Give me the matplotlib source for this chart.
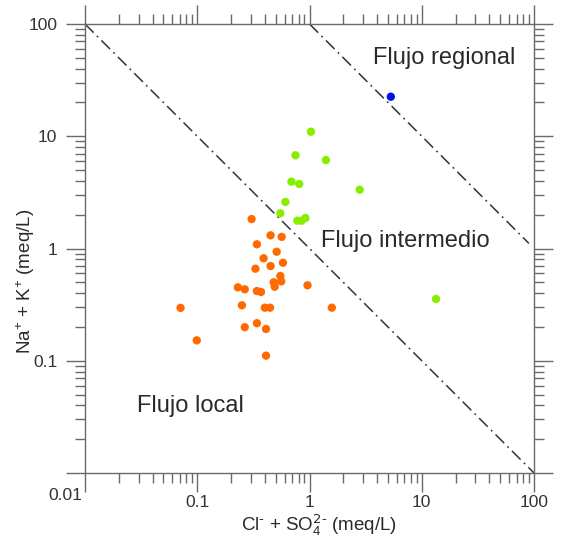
import numpy as np
import matplotlib
matplotlib.use("Agg")
import matplotlib.pyplot as plt
from matplotlib.ticker import LogLocator, NullFormatter, FixedFormatter, FixedLocator
import matplotlib.transforms as mtransforms

plt.rcParams['font.family'] = ['Liberation Sans', 'DejaVu Sans']
plt.rcParams['mathtext.default'] = 'regular'

# Cl + SO4 vs Na + K (meq/L) for each water sample
local_x = [0.305, 0.45, 0.565, 0.34, 0.51, 0.39, 0.58, 0.45, 0.33, 0.55,
           0.48, 0.56, 0.49, 0.23, 0.265, 0.96, 0.34, 0.37, 0.25, 0.40,
           0.445, 0.071, 1.58, 0.265, 0.34, 0.41, 0.099, 0.41]
local_y = [1.83, 1.31, 1.27, 1.09, 0.936, 0.818, 0.747, 0.698, 0.661, 0.569,
           0.50, 0.51, 0.457, 0.451, 0.433, 0.47, 0.418, 0.41, 0.312, 0.297,
           0.297, 0.296, 0.297, 0.199, 0.216, 0.192, 0.152, 0.111]

inter_x = [1.03, 0.75, 1.40, 0.69, 0.81, 2.8, 0.61, 0.55, 0.78, 0.85, 0.92, 13.4]
inter_y = [10.98, 6.77, 6.14, 3.94, 3.76, 3.34, 2.60, 2.06, 1.77, 1.77, 1.87, 0.355]

regional_x = [5.3]
regional_y = [22.5]

# boundaries between flow types: x*y = const
bound_lo = (0.01, 100.0)   # x range for x*y = 1
bound_hi = (1.0, 90.0)     # x range for x*y = 100

tick_vals = [0.01, 0.1, 1, 10, 100]
tick_text = ["0.01", "0.1", "1", "10", "100"]

fig = plt.figure(figsize=(5.61, 5.42), dpi=100)
ax = fig.add_axes([0.1515, 0.1273, 0.8004, 0.8284])
ax.set_xscale('log')
ax.set_yscale('log')
ax.set_xlim(0.01, 100)
ax.set_ylim(0.01, 100)

dash = (0, (8, 3, 1.2, 3))
xl = np.array(bound_lo)
ax.plot(xl, 1.0 / xl, color='#333333', lw=1.1, linestyle=dash, zorder=2)
xh = np.array(bound_hi)
ax.plot(xh, 100.0 / xh, color='#333333', lw=1.1, linestyle=dash, zorder=2)

ax.scatter(local_x, local_y, s=36, color='#FF6A00', edgecolors='none', zorder=3)
ax.scatter(inter_x, inter_y, s=36, color='#88EE00', edgecolors='none', zorder=3)
ax.scatter(regional_x, regional_y, s=36, color='#0010E8', edgecolors='none', zorder=3)

txt = dict(fontsize=17, color='#2a2a2a', va='center', ha='left')
ax.text(3.68, 49.8, "Flujo regional", **txt)
ax.text(1.26, 1.17, "Flujo intermedio", **txt)
ax.text(0.029, 0.0395, "Flujo local", **txt)

# ticks on all four sides, pointing out
for sp in ax.spines.values():
    sp.set_color('#6a6a6a')
    sp.set_linewidth(1.0)
ax.tick_params(which='both', direction='out', color='#6a6a6a', width=1.0,
               top=True, right=True, labelsize=12.5, labelcolor='#333333')
ax.tick_params(which='major', length=14)
ax.tick_params(which='minor', length=7)
ax.tick_params(axis='x', which='major', pad=1.5)
ax.tick_params(axis='y', which='major', pad=6)

ax.xaxis.set_major_locator(FixedLocator(tick_vals))
ax.yaxis.set_major_locator(FixedLocator(tick_vals))
ax.xaxis.set_minor_locator(LogLocator(base=10, subs=np.arange(2, 10)))
ax.yaxis.set_minor_locator(LogLocator(base=10, subs=np.arange(2, 10)))
ax.xaxis.set_minor_formatter(NullFormatter())
ax.yaxis.set_minor_formatter(NullFormatter())
ax.xaxis.set_major_formatter(FixedFormatter([""] + tick_text[1:]))
ax.yaxis.set_major_formatter(FixedFormatter([""] + tick_text[1:]))

# shared corner label
off = mtransforms.offset_copy(ax.transData, fig=fig, x=-3, y=-22, units='dots')
ax.text(0.01, 0.01, "0.01", transform=off, ha='right', va='center',
        fontsize=12.5, color='#333333', clip_on=False)

fig.text(0.569, 0.032, r"Cl$^{\text{-}}$ + SO$_4^{\text{2-}}$ (meq/L)", ha='center', va='center',
         fontsize=13.5, color='#2a2a2a')
fig.text(0.046, 0.48, "Na$^{+}$ + K$^{+}$ (meq/L)", ha='center', va='center',
         rotation=90, fontsize=13.5, color='#2a2a2a')

fig.savefig('out.png', dpi=100)
